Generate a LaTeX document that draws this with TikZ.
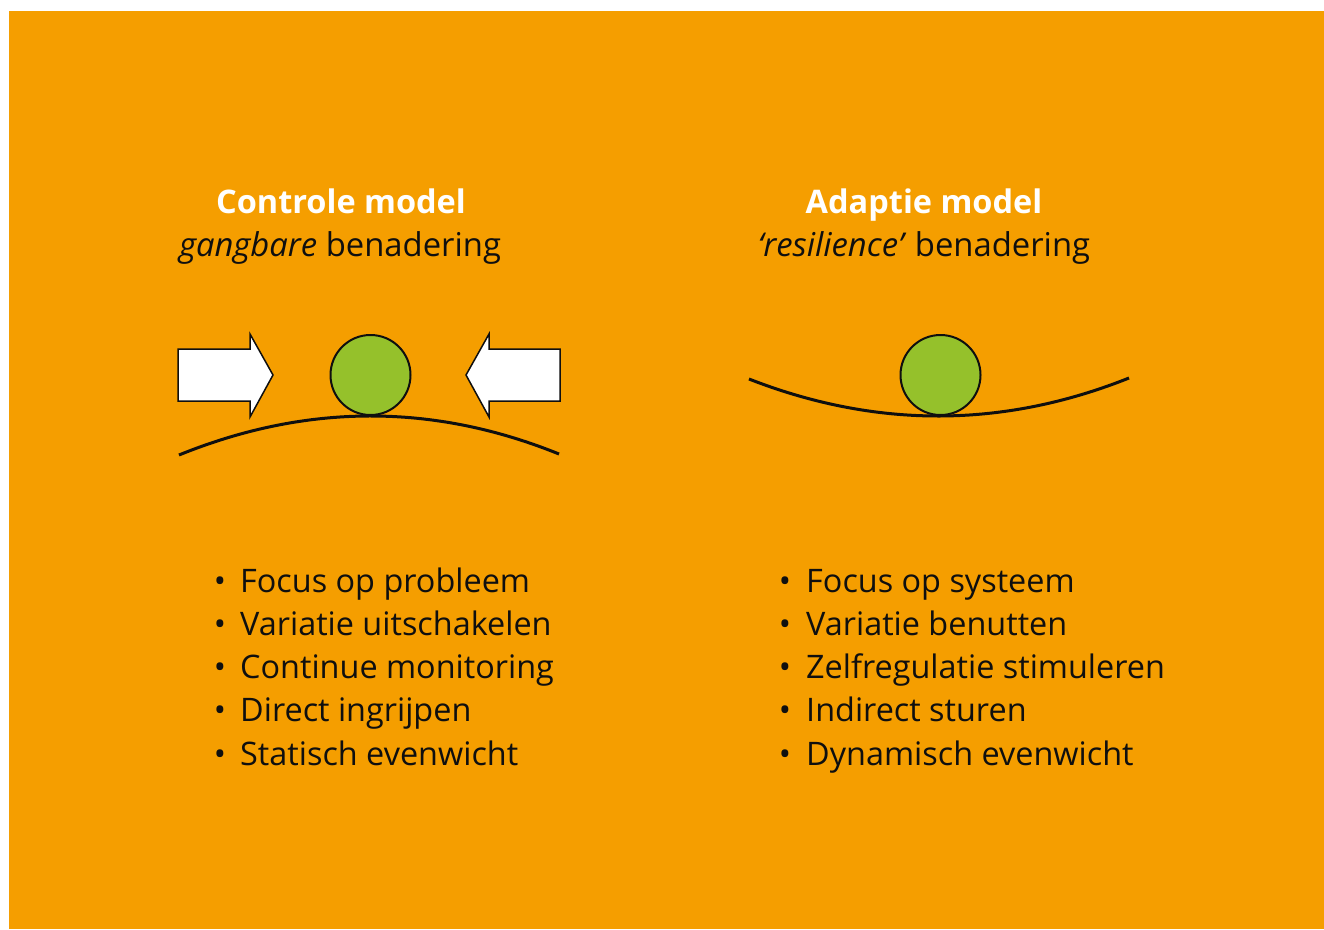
\documentclass[tikz,border=0pt]{standalone}
\usepackage{fontspec}
\setmainfont{Open Sans}
\definecolor{bgorange}{RGB}{245,158,0}
\definecolor{ballgreen}{RGB}{149,193,43}
\definecolor{ink}{RGB}{15,15,15}
\begin{document}
\begin{tikzpicture}[x=1pt,y=-1pt,
  headline/.style={font=\fontsize{32.5}{39}\selectfont\bfseries, text=white, anchor=base, inner sep=0pt},
  subline/.style={font=\fontsize{32.8}{39}\selectfont, text=ink, anchor=base, inner sep=0pt},
  ball/.style={circle, draw=ink, line width=2pt, fill=ballgreen, minimum size=80pt, inner sep=0pt},
  push/.style={draw=ink, line width=1.5pt, fill=white, line join=miter},
  ground/.style={draw=ink, line width=3pt},
  itemtext/.style={font=\fontsize{32.4}{39}\selectfont, text=ink, anchor=base west, inner sep=0pt},
  itemdot/.style={font=\fontsize{32.4}{39}\selectfont, text=ink, anchor=base, inner sep=0pt}]
\useasboundingbox (0,0) rectangle (1324,929);
\fill[white] (0,0) rectangle (1324,929);
\fill[bgorange] (9,11) rectangle (1324,929);

% --- headings ---
\node[headline] (t1) at (341,213) {Controle model};
\node[subline] (s1) at (340,256) {\textit{gangbare} benadering};
\node[headline] (t2) at (924,213) {Adaptie model};
\node[subline] (s2) at (924,256) {\textit{‘resilience’} benadering};

% --- control model: ball on a hill, held by two arrows ---
\coordinate (hillL) at (179,455);
\coordinate (hillR) at (559,454);
\draw[ground] (hillL) .. controls (306.3,403.3) and (433,403) .. (hillR);
\node[ball] (ball1) at (370.5,375) {};
\draw[push] (178,349) -- (250,349) -- (250,334) -- (273,375) -- (250,417) -- (250,401) -- (178,401) -- cycle;
\draw[push] (560,349) -- (489,349) -- (489,334) -- (466,375) -- (489,417) -- (489,401) -- (560,401) -- cycle;

% --- adaptive model: ball in a valley ---
\coordinate (valL) at (749,379);
\coordinate (valR) at (1129,378);
\draw[ground] (valL) .. controls (876.3,428.7) and (1003,428.3) .. (valR);
\node[ball] (ball2) at (940.5,375) {};

% --- bullet lists ---
\foreach \txt [count=\i] in {Focus op probleem, Variatie uitschakelen, Continue monitoring, Direct ingrijpen, Statisch evenwicht} {
  \node[itemdot] (ld\i) at (220,{592+43.3*(\i-1)}) {\textbullet};
  \node[itemtext] (lt\i) at (240,{592+43.3*(\i-1)}) {\txt};
}
\foreach \txt [count=\i] in {Focus op systeem, Variatie benutten, Zelfregulatie stimuleren, Indirect sturen, Dynamisch evenwicht} {
  \node[itemdot] (rd\i) at (785,{592+43.3*(\i-1)}) {\textbullet};
  \node[itemtext] (rt\i) at (806,{592+43.3*(\i-1)}) {\txt};
}
\end{tikzpicture}
\end{document}
